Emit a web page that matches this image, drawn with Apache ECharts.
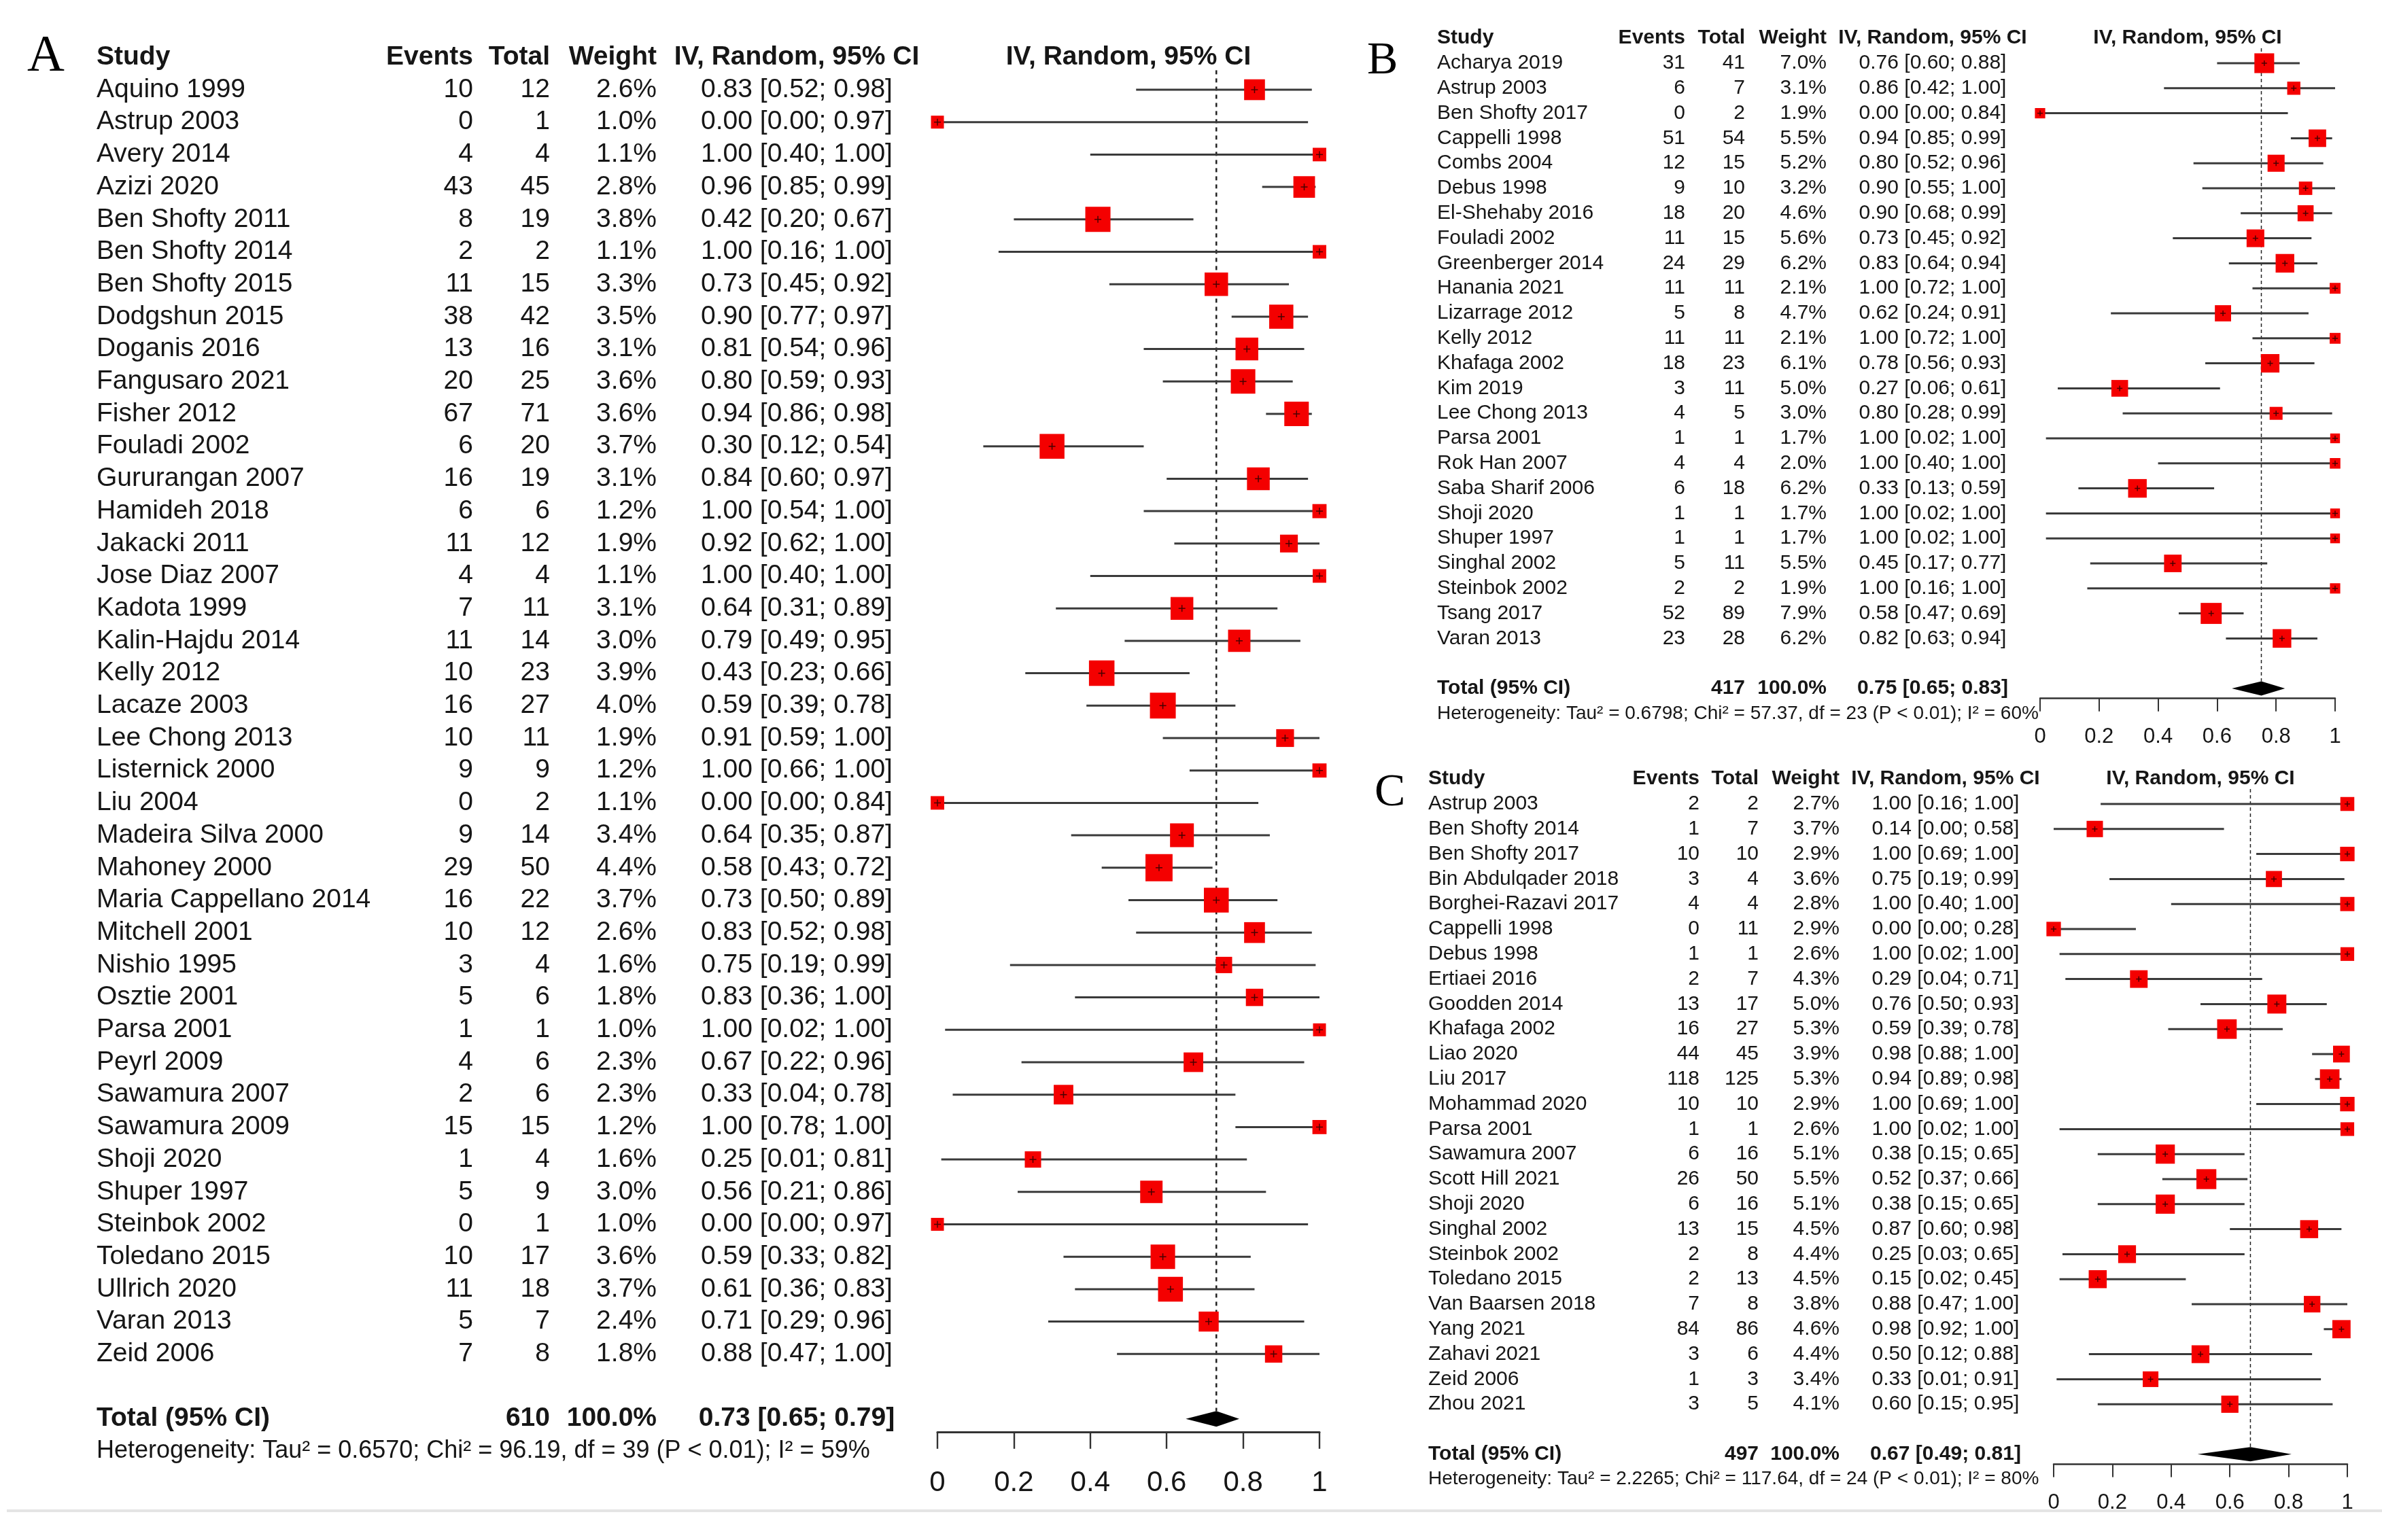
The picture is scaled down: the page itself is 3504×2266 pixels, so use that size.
<!DOCTYPE html>
<html><head><meta charset="utf-8">
<script src="https://cdn.jsdelivr.net/npm/echarts@6/dist/echarts.min.js"></script>
<style>html,body{margin:0;padding:0;background:#fff}#c{width:3504px;height:2266px}</style>
</head><body><div id="c"></div>
<script>
// ---------------- Panel A ----------------
const studiesA = ['Aquino 1999','Astrup 2003','Avery 2014','Azizi 2020','Ben Shofty 2011','Ben Shofty 2014','Ben Shofty 2015','Dodgshun 2015','Doganis 2016','Fangusaro 2021','Fisher 2012','Fouladi 2002','Gururangan 2007','Hamideh 2018','Jakacki 2011','Jose Diaz 2007','Kadota 1999','Kalin-Hajdu 2014','Kelly 2012','Lacaze 2003','Lee Chong 2013','Listernick 2000','Liu 2004','Madeira Silva 2000','Mahoney 2000','Maria Cappellano 2014','Mitchell 2001','Nishio 1995','Osztie 2001','Parsa 2001','Peyrl 2009','Sawamura 2007','Sawamura 2009','Shoji 2020','Shuper 1997','Steinbok 2002','Toledano 2015','Ullrich 2020','Varan 2013','Zeid 2006'];
const eventsA = [10,0,4,43,8,2,11,38,13,20,67,6,16,6,11,4,7,11,10,16,10,9,0,9,29,16,10,3,5,1,4,2,15,1,5,0,10,11,5,7];
const totalsA = [12,1,4,45,19,2,15,42,16,25,71,20,19,6,12,4,11,14,23,27,11,9,2,14,50,22,12,4,6,1,6,6,15,4,9,1,17,18,7,8];
const weightsA = [2.6,1.0,1.1,2.8,3.8,1.1,3.3,3.5,3.1,3.6,3.6,3.7,3.1,1.2,1.9,1.1,3.1,3.0,3.9,4.0,1.9,1.2,1.1,3.4,4.4,3.7,2.6,1.6,1.8,1.0,2.3,2.3,1.2,1.6,3.0,1.0,3.6,3.7,2.4,1.8];
const estA = [0.83,0.00,1.00,0.96,0.42,1.00,0.73,0.90,0.81,0.80,0.94,0.30,0.84,1.00,0.92,1.00,0.64,0.79,0.43,0.59,0.91,1.00,0.00,0.64,0.58,0.73,0.83,0.75,0.83,1.00,0.67,0.33,1.00,0.25,0.56,0.00,0.59,0.61,0.71,0.88];
const lowA = [0.52,0.00,0.40,0.85,0.20,0.16,0.45,0.77,0.54,0.59,0.86,0.12,0.60,0.54,0.62,0.40,0.31,0.49,0.23,0.39,0.59,0.66,0.00,0.35,0.43,0.50,0.52,0.19,0.36,0.02,0.22,0.04,0.78,0.01,0.21,0.00,0.33,0.36,0.29,0.47];
const highA = [0.98,0.97,1.00,0.99,0.67,1.00,0.92,0.97,0.96,0.93,0.98,0.54,0.97,1.00,1.00,1.00,0.89,0.95,0.66,0.78,1.00,1.00,0.84,0.87,0.72,0.89,0.98,0.99,1.00,1.00,0.96,0.78,1.00,0.81,0.86,0.97,0.82,0.83,0.96,1.00];
const pooledA = [0.73, 0.65, 0.79];
const sumA = 610;
const hetA = 'Heterogeneity: Tau² = 0.6570; Chi² = 96.19, df = 39 (P < 0.01); I² = 59%';

// ---------------- Panel B ----------------
const studiesB = ['Acharya 2019','Astrup 2003','Ben Shofty 2017','Cappelli 1998','Combs 2004','Debus 1998','El-Shehaby 2016','Fouladi 2002','Greenberger 2014','Hanania 2021','Lizarrage 2012','Kelly 2012','Khafaga 2002','Kim 2019','Lee Chong 2013','Parsa 2001','Rok Han 2007','Saba Sharif 2006','Shoji 2020','Shuper 1997','Singhal 2002','Steinbok 2002','Tsang 2017','Varan 2013'];
const eventsB = [31,6,0,51,12,9,18,11,24,11,5,11,18,3,4,1,4,6,1,1,5,2,52,23];
const totalsB = [41,7,2,54,15,10,20,15,29,11,8,11,23,11,5,1,4,18,1,1,11,2,89,28];
const weightsB = [7.0,3.1,1.9,5.5,5.2,3.2,4.6,5.6,6.2,2.1,4.7,2.1,6.1,5.0,3.0,1.7,2.0,6.2,1.7,1.7,5.5,1.9,7.9,6.2];
const estB = [0.76,0.86,0.00,0.94,0.80,0.90,0.90,0.73,0.83,1.00,0.62,1.00,0.78,0.27,0.80,1.00,1.00,0.33,1.00,1.00,0.45,1.00,0.58,0.82];
const lowB = [0.60,0.42,0.00,0.85,0.52,0.55,0.68,0.45,0.64,0.72,0.24,0.72,0.56,0.06,0.28,0.02,0.40,0.13,0.02,0.02,0.17,0.16,0.47,0.63];
const highB = [0.88,1.00,0.84,0.99,0.96,1.00,0.99,0.92,0.94,1.00,0.91,1.00,0.93,0.61,0.99,1.00,1.00,0.59,1.00,1.00,0.77,1.00,0.69,0.94];
const pooledB = [0.75, 0.65, 0.83];
const sumB = 417;
const hetB = 'Heterogeneity: Tau² = 0.6798; Chi² = 57.37, df = 23 (P < 0.01); I² = 60%';

// ---------------- Panel C ----------------
const studiesC = ['Astrup 2003','Ben Shofty 2014','Ben Shofty 2017','Bin Abdulqader 2018','Borghei-Razavi 2017','Cappelli 1998','Debus 1998','Ertiaei 2016','Goodden 2014','Khafaga 2002','Liao 2020','Liu 2017','Mohammad 2020','Parsa 2001','Sawamura 2007','Scott Hill 2021','Shoji 2020','Singhal 2002','Steinbok 2002','Toledano 2015','Van Baarsen 2018','Yang 2021','Zahavi 2021','Zeid 2006','Zhou 2021'];
const eventsC = [2,1,10,3,4,0,1,2,13,16,44,118,10,1,6,26,6,13,2,2,7,84,3,1,3];
const totalsC = [2,7,10,4,4,11,1,7,17,27,45,125,10,1,16,50,16,15,8,13,8,86,6,3,5];
const weightsC = [2.7,3.7,2.9,3.6,2.8,2.9,2.6,4.3,5.0,5.3,3.9,5.3,2.9,2.6,5.1,5.5,5.1,4.5,4.4,4.5,3.8,4.6,4.4,3.4,4.1];
const estC = [1.00,0.14,1.00,0.75,1.00,0.00,1.00,0.29,0.76,0.59,0.98,0.94,1.00,1.00,0.38,0.52,0.38,0.87,0.25,0.15,0.88,0.98,0.50,0.33,0.60];
const lowC = [0.16,0.00,0.69,0.19,0.40,0.00,0.02,0.04,0.50,0.39,0.88,0.89,0.69,0.02,0.15,0.37,0.15,0.60,0.03,0.02,0.47,0.92,0.12,0.01,0.15];
const highC = [1.00,0.58,1.00,0.99,1.00,0.28,1.00,0.71,0.93,0.78,1.00,0.98,1.00,1.00,0.65,0.66,0.65,0.98,0.65,0.45,1.00,1.00,0.88,0.91,0.95];
const pooledC = [0.67, 0.49, 0.81];
const sumC = 497;
const hetC = 'Heterogeneity: Tau² = 2.2265; Chi² = 117.64, df = 24 (P < 0.01); I² = 80%';

// axis ticks
const xTicks = [0, 0.2, 0.4, 0.6, 0.8, 1];
const headerLabels = ['Study', 'Events', 'Total', 'Weight', 'IV, Random, 95% CI'];
const forestTitle = 'IV, Random, 95% CI';
const totalLabel = 'Total (95% CI)';

// ---------------- layout ----------------
const FONT = '"Liberation Sans", Arial, Helvetica, sans-serif';
const TXT = '#161616';
const panels = [
  {letter:'A', studies:studiesA, ev:eventsA, tot:totalsA, w:weightsA, est:estA, lo:lowA, hi:highA, pooled:pooledA, sum:sumA, het:hetA,
   L:{tableLeft:0, forestLeft:1379, forestRight:1941, row0:132, rowH:47.7,
      cols:{study:142, ev:696, tot:809, w:966, ci:1172},
      fs:39, hetFs:36, tickFs:42, tickLen:25, axisW:3, k:19, lw:3, cross:5, dash:[6,6], dashW:2.5, diaH:11.5, labelMargin:55,
      letterX:40, letterY:84, letterFs:76}},
  {letter:'B', studies:studiesB, ev:eventsB, tot:totalsB, w:weightsB, est:estB, lo:lowB, hi:highB, pooled:pooledB, sum:sumB, het:hetB,
   L:{tableLeft:1990, forestLeft:3001, forestRight:3435, row0:93, rowH:36.8,
      cols:{study:2114, ev:2479, tot:2567, w:2687, ci:2843},
      fs:30, hetFs:28, tickFs:31, tickLen:19, axisW:2.5, k:11, lw:3, cross:4, dash:[5,4], dashW:1.5, diaH:10.5, labelMargin:41,
      letterX:2011, letterY:90, letterFs:68}},
  {letter:'C', studies:studiesC, ev:eventsC, tot:totalsC, w:weightsC, est:estC, lo:lowC, hi:highC, pooled:pooledC, sum:sumC, het:hetC,
   L:{tableLeft:1990, forestLeft:3021, forestRight:3453, row0:1183, rowH:36.8,
      cols:{study:2101, ev:2500, tot:2587, w:2706, ci:2862},
      fs:30, hetFs:28, tickFs:31, tickLen:19, axisW:2.5, k:12.5, lw:3, cross:4, dash:[5,4], dashW:1.5, diaH:10.5, labelMargin:41,
      letterX:2022, letterY:1167, letterFs:68}}
];

const YMIN = -1.6;
const grids = [], xAxes = [], yAxes = [], series = [], graphics = [];

function textSeries(idx, items) {
  return {
    type: 'custom', xAxisIndex: idx, yAxisIndex: idx, silent: true, clip: false, z: 5,
    data: items.map(it => [it.x, it.row]),
    renderItem: (params, api) => {
      const it = items[params.dataIndex];
      const p = api.coord([api.value(0), api.value(1)]);
      return {
        type: 'text', x: p[0], y: p[1],
        style: {
          text: it.text, fill: TXT,
          fontSize: it.fs, fontFamily: FONT, fontWeight: it.bold ? 'bold' : 'normal',
          align: it.align, textAlign: it.align, verticalAlign: 'middle', textVerticalAlign: 'middle'
        }
      };
    }
  };
}

const f2 = v => v.toFixed(2);
const ciText = (e, l, h) => f2(e) + ' [' + f2(l) + '; ' + f2(h) + ']';

panels.forEach((P, i) => {
  const L = P.L, n = P.studies.length;
  const tIdx = 2 * i, fIdx = 2 * i + 1;
  const top = L.row0 + YMIN * L.rowH;
  const forestMax = n + 1.4;
  const tableMax = n + 3.5;
  // table grid
  grids.push({left: L.tableLeft, top: top, width: L.forestLeft - L.tableLeft, height: (tableMax - YMIN) * L.rowH});
  xAxes.push({gridIndex: tIdx, type: 'value', min: L.tableLeft, max: L.forestLeft, show: false});
  yAxes.push({gridIndex: tIdx, type: 'value', min: YMIN, max: tableMax, inverse: true, show: false});
  // forest grid
  grids.push({left: L.forestLeft, top: top, width: L.forestRight - L.forestLeft, height: (forestMax - YMIN) * L.rowH});
  xAxes.push({gridIndex: fIdx, type: 'value', position: 'bottom', min: 0, max: 1, interval: 0.2,
    splitLine: {show: false},
    axisLine: {show: true, onZero: false, lineStyle: {color: '#333', width: L.axisW}},
    axisTick: {show: true, inside: false, length: L.tickLen, lineStyle: {color: '#333', width: L.axisW * 0.8}},
    axisLabel: {show: true, margin: L.labelMargin, fontSize: L.tickFs, lineHeight: L.tickFs, color: TXT, fontFamily: FONT,
      formatter: v => { const t = xTicks.find(x => Math.abs(x - v) < 1e-9); return t === undefined ? '' : String(t); }}
  });
  yAxes.push({gridIndex: fIdx, type: 'value', min: YMIN, max: forestMax, inverse: true, show: false});

  // table text
  const items = [];
  const C = L.cols;
  items.push({x: C.study, row: -1, text: headerLabels[0], align: 'left', bold: true, fs: L.fs});
  items.push({x: C.ev, row: -1, text: headerLabels[1], align: 'right', bold: true, fs: L.fs});
  items.push({x: C.tot, row: -1, text: headerLabels[2], align: 'right', bold: true, fs: L.fs});
  items.push({x: C.w, row: -1, text: headerLabels[3], align: 'right', bold: true, fs: L.fs});
  items.push({x: C.ci, row: -1, text: headerLabels[4], align: 'center', bold: true, fs: L.fs});
  P.studies.forEach((s, j) => {
    items.push({x: C.study, row: j, text: s, align: 'left', fs: L.fs});
    items.push({x: C.ev, row: j, text: String(P.ev[j]), align: 'right', fs: L.fs});
    items.push({x: C.tot, row: j, text: String(P.tot[j]), align: 'right', fs: L.fs});
    items.push({x: C.w, row: j, text: P.w[j].toFixed(1) + '%', align: 'right', fs: L.fs});
    items.push({x: C.ci, row: j, text: ciText(P.est[j], P.lo[j], P.hi[j]), align: 'center', fs: L.fs});
  });
  items.push({x: C.study, row: n + 1, text: totalLabel, align: 'left', bold: true, fs: L.fs});
  items.push({x: C.tot, row: n + 1, text: String(P.sum), align: 'right', bold: true, fs: L.fs});
  items.push({x: C.w, row: n + 1, text: '100.0%', align: 'right', bold: true, fs: L.fs});
  items.push({x: C.ci, row: n + 1, text: ciText(P.pooled[0], P.pooled[1], P.pooled[2]), align: 'center', bold: true, fs: L.fs});
  items.push({x: C.study, row: n + 2, text: P.het, align: 'left', fs: L.hetFs});
  series.push(textSeries(tIdx, items));

  // forest title
  series.push(textSeries(fIdx, [{x: 0.5, row: -1, text: forestTitle, align: 'center', bold: true, fs: L.fs}]));

  // dashed pooled line
  series.push({type: 'line', xAxisIndex: fIdx, yAxisIndex: fIdx, symbol: 'none', silent: true, z: 1,
    data: [[P.pooled[0], -0.6], [P.pooled[0], n + 1 - L.diaH / L.rowH]],
    lineStyle: {color: '#222', width: L.dashW, type: L.dash}});

  // study CIs and squares
  series.push({
    type: 'custom', xAxisIndex: fIdx, yAxisIndex: fIdx, silent: true, clip: false, z: 3,
    data: P.studies.map((s, j) => [P.est[j], j, P.lo[j], P.hi[j], P.w[j]]),
    renderItem: (params, api) => {
      const y = api.value(1);
      const pl = api.coord([api.value(2), y]);
      const ph = api.coord([api.value(3), y]);
      const pe = api.coord([api.value(0), y]);
      const s = L.k * Math.sqrt(api.value(4));
      const c = L.cross;
      return {type: 'group', children: [
        {type: 'line', shape: {x1: pl[0], y1: pl[1], x2: ph[0], y2: ph[1]}, style: {stroke: '#3a3a3a', lineWidth: L.lw}},
        {type: 'rect', shape: {x: pe[0] - s / 2, y: pe[1] - s / 2, width: s, height: s}, style: {fill: '#F40000'}},
        {type: 'line', shape: {x1: pe[0] - c, y1: pe[1], x2: pe[0] + c, y2: pe[1]}, style: {stroke: '#4a0000', lineWidth: 1.5}},
        {type: 'line', shape: {x1: pe[0], y1: pe[1] - c, x2: pe[0], y2: pe[1] + c}, style: {stroke: '#4a0000', lineWidth: 1.5}}
      ]};
    }
  });

  // pooled diamond
  series.push({
    type: 'custom', xAxisIndex: fIdx, yAxisIndex: fIdx, silent: true, clip: false, z: 4,
    data: [[P.pooled[0], n + 1, P.pooled[1], P.pooled[2]]],
    renderItem: (params, api) => {
      const y = api.value(1);
      const pe = api.coord([api.value(0), y]);
      const pl = api.coord([api.value(2), y]);
      const ph = api.coord([api.value(3), y]);
      const h = L.diaH;
      return {type: 'polygon', shape: {points: [[pl[0], pe[1]], [pe[0], pe[1] - h], [ph[0], pe[1]], [pe[0], pe[1] + h]]},
        style: {fill: '#000'}};
    }
  });

  graphics.push({type: 'text', x: L.letterX, y: L.letterY,
    style: {text: P.letter, fill: '#000', fontSize: L.letterFs, fontFamily: '"Liberation Serif", "Times New Roman", serif',
      align: 'left', textAlign: 'left', verticalAlign: 'middle', textVerticalAlign: 'middle'}});
});

graphics.push({type: 'rect', shape: {x: 10, y: 2221, width: 3494, height: 4}, style: {fill: '#e4e4e4'}, silent: true});

const chart = echarts.init(document.getElementById('c'), null, {renderer: 'canvas'});
chart.setOption({
  backgroundColor: '#ffffff',
  animation: false,
  grid: grids, xAxis: xAxes, yAxis: yAxes, series: series, graphic: graphics
});
</script></body></html>
